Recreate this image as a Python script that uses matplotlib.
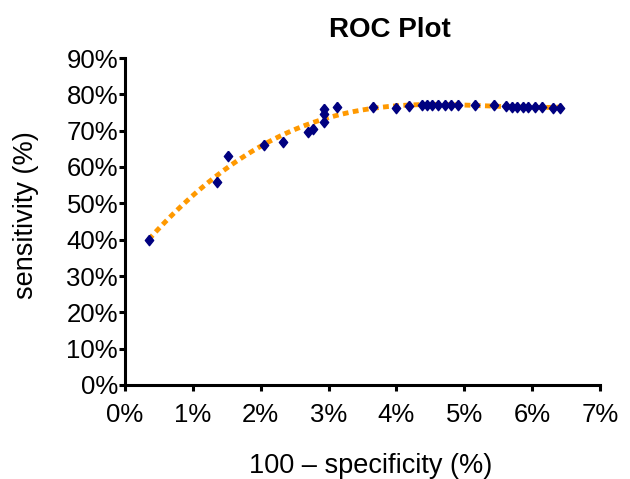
import numpy as np
import matplotlib
matplotlib.use("Agg")
import matplotlib.pyplot as plt
from matplotlib.ticker import FuncFormatter

plt.rcParams['font.family'] = ['Liberation Sans', 'DejaVu Sans']

# Data (percent)
fpr = [0.35, 1.35, 1.52, 2.05, 2.33, 2.70, 2.77, 2.93, 2.93, 2.93, 3.12, 3.65,
       4.00, 4.18, 4.37, 4.45, 4.52, 4.62, 4.72, 4.81, 4.90, 5.16, 5.44,
       5.62, 5.70, 5.77, 5.86, 5.94, 6.04, 6.15, 6.31, 6.41]
sens = [40.0, 56.0, 63.0, 66.0, 67.0, 69.5, 70.5, 76.0, 74.5, 72.5, 76.5, 76.5,
        76.3, 76.8, 77.0, 77.2, 77.0, 77.0, 77.0, 77.0, 77.0, 77.0, 77.0,
        76.8, 76.5, 76.5, 76.5, 76.5, 76.5, 76.5, 76.3, 76.3]

x_ticks = [0, 1, 2, 3, 4, 5, 6, 7]
y_ticks = list(range(0, 91, 10))

W, H = 630, 479
fig = plt.figure(figsize=(6.3, 4.79), dpi=100)
ax = fig.add_axes([125 / W, 1 - 385 / H, 475 / W, 327 / H])

# polynomial trendline
coef = np.polyfit(fpr, sens, 4)
xs = np.linspace(min(fpr), max(fpr) + 0.05, 300)
ax.plot(xs, np.polyval(coef, xs), color='#FF9900', lw=3.5,
        dashes=(1.2, 0.9), dash_capstyle='butt', zorder=2)

diamond = [(0, 1), (0.8, 0), (0, -1), (-0.8, 0), (0, 1)]
ax.plot(fpr, sens, linestyle='none', marker=diamond, ms=7.5,
        color='#000080', zorder=3)

ax.set_xlim(0, 7)
ax.set_ylim(0, 90)
ax.set_xticks(x_ticks)
ax.set_yticks(y_ticks)
ax.xaxis.set_major_formatter(FuncFormatter(lambda v, p: f"{int(round(v))}%"))
ax.yaxis.set_major_formatter(FuncFormatter(lambda v, p: f"{int(round(v))}%"))

for s in ['top', 'right']:
    ax.spines[s].set_visible(False)
for s in ['left', 'bottom']:
    ax.spines[s].set_linewidth(2.2)
ax.tick_params(axis='both', direction='out', length=4, width=2.2,
               labelsize=18.5)
ax.tick_params(axis='x', pad=9)
ax.tick_params(axis='y', pad=1)

fig.text(389.5 / W, 1 - 37 / H, 'ROC Plot', fontsize=20, fontweight='bold',
         ha='center', va='baseline')
fig.text(370.5 / W, 1 - 473 / H, '100 \u2013 specificity (%)', fontsize=19.5,
         ha='center', va='baseline')
fig.text(26 / W, 1 - 215 / H, 'sensitivity (%)', fontsize=19.5, rotation=90,
         ha='center', va='center')

fig.savefig('out.png', dpi=100)
